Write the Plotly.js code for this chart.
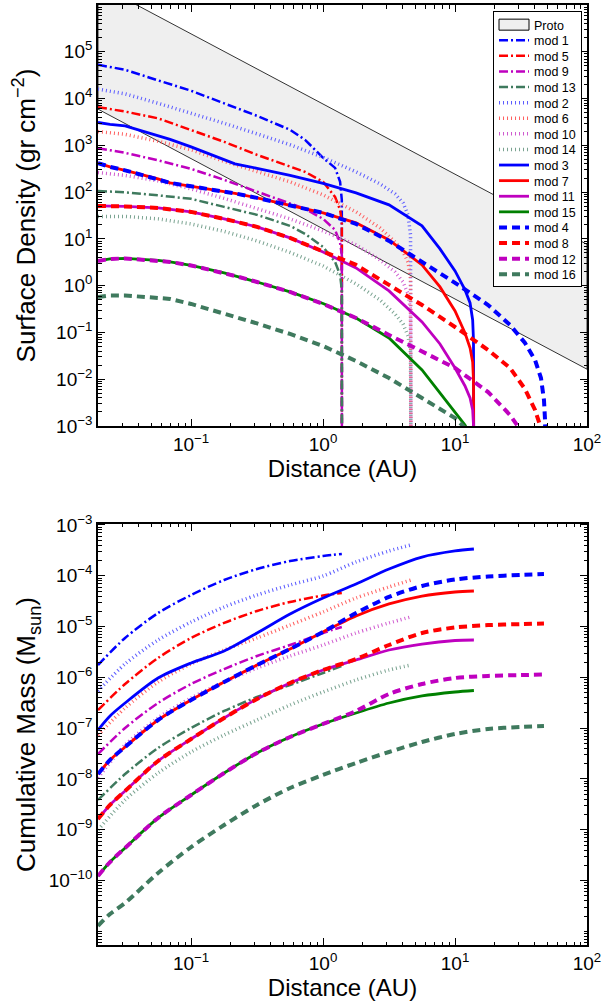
<!DOCTYPE html>
<html><head><meta charset="utf-8">
<script src="https://cdn.plot.ly/plotly-3.0.1.min.js"></script>
<style>html,body{margin:0;padding:0;background:#fff}#chart{width:603px;height:1001px}</style>
</head><body><div id="chart"></div>
<script>
// ================= DATA =================
// Proto band (surface density, gr cm^-2) bounding lines
const protoDist  = [0.0197, 100];
const protoUpper = [2.76e6, 7.64];
const protoLower = [5940, 0.0164];

// ---- Surface density (gr cm^-2) ----
const sdDistA = [0.0197, 0.0316, 0.0562, 0.1, 0.178, 0.316, 0.562, 0.731, 1.0, 1.233, 1.346, 1.387, 1.39];
const sdMod1  = [52700, 41200, 24500, 14700, 7900, 4270, 2150, 1310, 541, 330, 166, 68, 1e-5];
const sdMod5  = [6560, 5280, 3780, 2150, 1190, 627, 356, 271, 166, 79, 41.7, 23.1, 1e-5];
const sdMod9  = [871, 692, 478, 314, 183, 104, 58.9, 43.8, 26.8, 15.6, 8.2, 4.55, 1e-5];
const sdMod13 = [106, 98.9, 85.3, 71.8, 48.4, 32.7, 19.0, 12.8, 6.74, 3.22, 1.70, 0.81, 1e-5];

const sdDistB = [0.0197, 0.0316, 0.0562, 0.1, 0.178, 0.316, 0.562, 1.0, 1.778, 2.70, 3.51, 4.04, 4.40, 4.60, 4.64];
const sdMod2  = [15900, 12600, 7920, 4950, 2960, 1760, 1030, 554, 271, 150, 91.7, 58.9, 32.6, 12.2, 1e-5];
const sdMod6  = [1970, 1720, 1220, 802, 455, 278, 166, 87.3, 37.8, 17.2, 8.63, 5.27, 3.22, 1.47, 1e-5];
const sdMod10 = [262, 228, 174, 117, 73.5, 44.9, 26.8, 14.8, 7.45, 3.56, 1.97, 1.20, 0.667, 0.303, 1e-5];
const sdMod14 = [30.3, 30.3, 26.8, 20.9, 14.5, 9.06, 5.14, 2.64, 1.09, 0.495, 0.249, 0.152, 0.0841, 0.0383, 1e-5];

const sdDistC = [0.0197, 0.0243, 0.0316, 0.0562, 0.0693, 0.1, 0.178, 0.215, 0.316, 0.562, 1.0, 1.778, 3.16, 5.62, 7.69, 10, 11.9, 13.0, 13.6, 13.8, 13.9];
const sdMod3  = [3080, 2810, 2610, 1640, 1340, 929, 490, 402, 322, 228, 154, 96.4, 53.5, 19.0, 6.11, 2.07, 0.811, 0.428, 0.185, 0.0692, 1e-5];
const sdMod7  = [416, 347, 292, 192, 158, 133, 104, 94.0, 75.3, 52.1, 36.0, 22.0, 9.52, 2.78, 0.94, 0.288, 0.0975, 0.0466, 0.0234, 0.00963, 1e-5];
const sdMod11 = [50.8, 50.8, 49.5, 46.0, 42.8, 37.8, 26.8, 23.7, 18.1, 10.5, 5.27, 2.40, 0.773, 0.168, 0.0568, 0.0174, 0.00718, 0.00397, 0.00220, 0.00105, 1e-5];
const sdMod15 = [3.38, 3.73, 3.83, 3.47, 3.22, 2.71, 1.87, 1.62, 1.20, 0.735, 0.417, 0.204, 0.0762, 0.0158, 0.00508, 0.00190, 0.00105, 0.00064, null, null, null];

const sdDistD = [0.0197, 0.0243, 0.0316, 0.0562, 0.0693, 0.1, 0.178, 0.215, 0.316, 0.562, 1.0, 1.778, 3.16, 5.62, 10, 17.8, 26.1, 33.9, 40.4, 44.8, 47.2, 48.1, 48.6];
const sdMod4  = [416, 347, 292, 192, 158, 133, 104, 94.0, 75.3, 52.1, 36.0, 20.9, 9.06, 3.22, 1.15, 0.387, 0.145, 0.0596, 0.0258, 0.0106, 0.0036, 0.00134, 1e-5];
const sdMod8  = [50.8, 50.8, 49.5, 46.0, 42.8, 37.8, 26.8, 23.7, 18.1, 10.5, 5.53, 2.78, 1.04, 0.387, 0.131, 0.0423, 0.0174, 0.00618, 0.0022, 0.000906, null, null, null];
const sdMod12 = [3.38, 3.73, 3.83, 3.47, 3.22, 2.71, 1.87, 1.62, 1.20, 0.735, 0.407, 0.204, 0.0885, 0.0402, 0.0174, 0.00533, 0.00172, 0.0006, null, null, null, null, null];
const sdMod16 = [0.574, 0.618, 0.618, 0.561, 0.521, 0.407, 0.255, 0.214, 0.156, 0.0929, 0.0514, 0.0245, 0.0106, 0.00397, 0.00148, 0.0003, null, null, null, null, null, null, null];

// ---- Cumulative mass (M_sun) ----
const cmDistA = [0.0197, 0.0316, 0.0562, 0.1, 0.178, 0.316, 0.562, 1.0, 1.387];
const cmMod1  = [1.75e-6, 5.97e-6, 1.85e-5, 4.19e-5, 8.26e-5, 1.36e-4, 1.95e-4, 2.45e-4, 2.69e-4];
const cmMod5  = [2.28e-7, 7.41e-7, 2.41e-6, 5.97e-6, 1.18e-5, 2.03e-5, 3.05e-5, 4.09e-5, 4.58e-5];
const cmMod9  = [3.10e-8, 1.01e-7, 3.13e-7, 7.41e-7, 1.46e-6, 2.64e-6, 4.34e-6, 7.48e-6, 9.82e-6];
const cmMod13 = [3.86e-9, 1.25e-8, 4.07e-8, 1.01e-7, 2.18e-7, 4.11e-7, 7.08e-7, 1.22e-6, 1.68e-6];

const cmDistB = [0.0197, 0.0316, 0.0562, 0.1, 0.178, 0.316, 0.562, 1.0, 1.778, 3.16, 4.64];
const cmMod2  = [5.40e-7, 1.84e-6, 5.44e-6, 1.23e-5, 2.43e-5, 4.19e-5, 6.59e-5, 9.91e-5, 1.87e-4, 3.08e-4, 4.04e-4];
const cmMod6  = [7.35e-8, 2.50e-7, 8.11e-7, 1.84e-6, 3.46e-6, 5.97e-6, 1.07e-5, 1.94e-5, 3.66e-5, 6.03e-5, 8.26e-5];
const cmMod10 = [1.05e-8, 4.67e-8, 1.59e-7, 3.93e-7, 8.11e-7, 1.53e-6, 2.64e-6, 4.34e-6, 7.48e-6, 1.18e-5, 1.55e-5];
const cmMod14 = [9.91e-10, 3.86e-9, 1.31e-8, 3.40e-8, 7.35e-8, 1.45e-7, 2.86e-7, 5.16e-7, 8.89e-7, 1.40e-6, 1.75e-6];

const cmDistC = [0.0197, 0.0243, 0.0316, 0.0562, 0.1, 0.178, 0.316, 0.562, 1.0, 1.778, 3.16, 5.62, 10, 13.9];
const cmMod3  = [9.23e-8, 1.74e-7, 3.13e-7, 9.73e-7, 1.92e-6, 3.31e-6, 7.48e-6, 1.77e-5, 3.66e-5, 6.90e-5, 1.36e-4, 2.34e-4, 3.08e-4, 3.37e-4];
const cmMod7  = [1.25e-8, 2.37e-8, 4.27e-8, 1.45e-7, 3.59e-7, 8.11e-7, 1.75e-6, 3.62e-6, 7.83e-6, 1.62e-5, 2.79e-5, 4.00e-5, 4.80e-5, 5.02e-5];
const cmMod11 = [1.63e-9, 3.08e-9, 5.81e-9, 2.26e-8, 6.12e-8, 1.59e-7, 3.76e-7, 7.76e-7, 1.40e-6, 2.20e-6, 3.46e-6, 4.54e-6, 5.32e-6, 5.44e-6];
const cmMod15 = [1.23e-10, 2.32e-10, 4.39e-10, 1.71e-9, 4.84e-9, 1.31e-8, 3.25e-8, 6.71e-8, 1.21e-7, 1.99e-7, 3.13e-7, 4.31e-7, 5.16e-7, 5.52e-7];

const cmDistD = [0.0197, 0.0243, 0.0316, 0.0562, 0.1, 0.178, 0.316, 0.562, 1.0, 1.778, 3.16, 5.62, 10, 17.8, 31.6, 47.2];
const cmMod4  = [1.25e-8, 2.37e-8, 4.27e-8, 1.45e-7, 3.59e-7, 8.11e-7, 1.75e-6, 3.62e-6, 7.83e-6, 1.85e-5, 3.83e-5, 6.30e-5, 8.45e-5, 9.69e-5, 1.04e-4, 1.08e-4];
const cmMod8  = [1.63e-9, 3.08e-9, 5.81e-9, 2.26e-8, 6.12e-8, 1.59e-7, 3.76e-7, 7.76e-7, 1.40e-6, 2.30e-6, 4.34e-6, 7.48e-6, 9.59e-6, 1.07e-5, 1.12e-5, 1.15e-5];
const cmMod12 = [1.23e-10, 2.32e-10, 4.39e-10, 1.71e-9, 4.84e-9, 1.31e-8, 3.25e-8, 6.71e-8, 1.21e-7, 2.18e-7, 4.71e-7, 7.41e-7, 9.73e-7, 1.07e-6, 1.11e-6, 1.14e-6];
const cmMod16 = [1.28e-11, 2.20e-11, 3.62e-11, 1.41e-10, 4.58e-10, 1.24e-9, 3.08e-9, 6.65e-9, 1.20e-8, 2.07e-8, 3.40e-8, 5.35e-8, 7.69e-8, 9.64e-8, 1.06e-7, 1.10e-7];

// Tick values / labels
const xTickVals = [0.1, 1, 10, 100];
const xTickText = ['10<sup>−1</sup>', '10<sup>0</sup>', '10<sup>1</sup>', '10<sup>2</sup>'];
const sdTickVals = [1e-3, 1e-2, 1e-1, 1, 10, 100, 1e3, 1e4, 1e5];
const sdTickText = ['10<sup>−3</sup>', '10<sup>−2</sup>', '10<sup>−1</sup>', '10<sup>0</sup>', '10<sup>1</sup>', '10<sup>2</sup>', '10<sup>3</sup>', '10<sup>4</sup>', '10<sup>5</sup>'];
const cmTickVals = [1e-10, 1e-9, 1e-8, 1e-7, 1e-6, 1e-5, 1e-4, 1e-3];
const cmTickText = ['10<sup>−10</sup>', '10<sup>−9</sup>', '10<sup>−8</sup>', '10<sup>−7</sup>', '10<sup>−6</sup>', '10<sup>−5</sup>', '10<sup>−4</sup>', '10<sup>−3</sup>'];

// ================= STYLES =================
const BLUE = '#0000ff', RED = '#ff0000', MAG = '#bf00bf', DGRN = '#3f7a5e', GRN = '#008000';
const LIGHT = {'#0000ff': '#5c5cff', '#ff0000': '#ff6060', '#bf00bf': '#cf5acf', '#3f7a5e': '#7aa391'};
const FAM = {
  dashdot: {width: 2.5, dash: '9px,3px,2px,3px'},
  dot:     {width: 3.5, dash: '1px,3px'},
  solid:   {width: 2.8, dash: 'solid'},
  dash:    {width: 4,   dash: '8px,5px'}
};

const models = [
  ['mod 1',  'dashdot', BLUE, sdDistA, sdMod1,  cmDistA, cmMod1],
  ['mod 5',  'dashdot', RED,  sdDistA, sdMod5,  cmDistA, cmMod5],
  ['mod 9',  'dashdot', MAG,  sdDistA, sdMod9,  cmDistA, cmMod9],
  ['mod 13', 'dashdot', DGRN, sdDistA, sdMod13, cmDistA, cmMod13],
  ['mod 2',  'dot',     BLUE, sdDistB, sdMod2,  cmDistB, cmMod2],
  ['mod 6',  'dot',     RED,  sdDistB, sdMod6,  cmDistB, cmMod6],
  ['mod 10', 'dot',     MAG,  sdDistB, sdMod10, cmDistB, cmMod10],
  ['mod 14', 'dot',     DGRN, sdDistB, sdMod14, cmDistB, cmMod14],
  ['mod 3',  'solid',   BLUE, sdDistC, sdMod3,  cmDistC, cmMod3],
  ['mod 7',  'solid',   RED,  sdDistC, sdMod7,  cmDistC, cmMod7],
  ['mod 11', 'solid',   MAG,  sdDistC, sdMod11, cmDistC, cmMod11],
  ['mod 15', 'solid',   GRN,  sdDistC, sdMod15, cmDistC, cmMod15],
  ['mod 4',  'dash',    BLUE, sdDistD, sdMod4,  cmDistD, cmMod4],
  ['mod 8',  'dash',    RED,  sdDistD, sdMod8,  cmDistD, cmMod8],
  ['mod 12', 'dash',    MAG,  sdDistD, sdMod12, cmDistD, cmMod12],
  ['mod 16', 'dash',    DGRN, sdDistD, sdMod16, cmDistD, cmMod16]
];

const traces = [];
traces.push({
  type: 'scatter', mode: 'lines', name: 'Proto',
  x: protoDist.concat(protoDist.slice().reverse()).concat([protoDist[0]]),
  y: protoUpper.concat(protoLower.slice().reverse()).concat([protoUpper[0]]),
  fill: 'toself', fillcolor: '#efefef',
  line: {color: '#000', width: 0.8},
  xaxis: 'x', yaxis: 'y', hoverinfo: 'skip'
});
models.forEach(m => {
  const f = FAM[m[1]];
  const col = m[1] === 'dot' ? (LIGHT[m[2]] || m[2]) : m[2];
  traces.push({type: 'scatter', mode: 'lines', name: m[0], x: m[3], y: m[4],
    line: {color: col, width: f.width, dash: f.dash}, connectgaps: false,
    xaxis: 'x', yaxis: 'y', legendgroup: m[0]});
});
models.forEach(m => {
  const f = FAM[m[1]];
  const col = m[1] === 'dot' ? (LIGHT[m[2]] || m[2]) : m[2];
  traces.push({type: 'scatter', mode: 'lines', name: m[0], x: m[5], y: m[6],
    line: {color: col, width: f.width, dash: f.dash, shape: 'spline', smoothing: 0.8},
    xaxis: 'x2', yaxis: 'y2', showlegend: false, legendgroup: m[0]});
});

const FONT = 'Liberation Sans, Arial, Helvetica, sans-serif';
function axis(extra) {
  return Object.assign({
    type: 'log', showline: true, linecolor: '#000', linewidth: 1.8, mirror: 'allticks',
    ticks: 'inside', ticklen: 7, tickwidth: 1, tickcolor: '#000',
    showgrid: false, zeroline: false, tickmode: 'array',
    tickfont: {family: FONT, size: 19, color: '#000'},
    minor: {ticks: 'inside', ticklen: 3.5, tickwidth: 1, tickcolor: '#000', dtick: 'D1', showgrid: false}
  }, extra);
}

const layout = {
  width: 603, height: 1001,
  margin: {l: 98, r: 16, t: 5, b: 56},
  paper_bgcolor: '#fff', plot_bgcolor: '#fff',
  font: {family: FONT, color: '#000'},
  showlegend: true,
  legend: {x: 0.9898, xanchor: 'right', y: 0.9936, yanchor: 'top',
    bgcolor: '#fff', bordercolor: '#000', borderwidth: 1,
    font: {family: FONT, size: 12.5, color: '#000'}, itemwidth: 30, tracegroupgap: 0},
  xaxis: axis({domain: [0, 1], anchor: 'y', range: [-1.7055, 2], tickvals: xTickVals, ticktext: xTickText,
    title: {text: 'Distance (AU)', standoff: 4, font: {family: FONT, size: 24}}}),
  yaxis: axis({domain: [0.5521, 1], anchor: 'x', range: [-3, 6], tickvals: sdTickVals, ticktext: sdTickText,
    title: {text: 'Surface Density (gr cm<sup>−2</sup>)', font: {family: FONT, size: 26}}}),
  xaxis2: axis({domain: [0, 1], anchor: 'y2', range: [-1.7055, 2], tickvals: xTickVals, ticktext: xTickText,
    title: {text: 'Distance (AU)', standoff: 4, font: {family: FONT, size: 24}}}),
  yaxis2: axis({domain: [0, 0.4479], anchor: 'x2', range: [-11.268, -2.98], tickvals: cmTickVals, ticktext: cmTickText,
    title: {text: 'Cumulative Mass (M<sub>sun</sub>)', font: {family: FONT, size: 26}}})
};

const gd = document.getElementById('chart');
Plotly.newPlot(gd, traces, layout, {staticPlot: true, displayModeBar: false}).then(function () {
  try {
    const items = gd.querySelectorAll('.legend .traces');
    if (items.length < 2) return;
    const parse = el => {
      const m = /translate\(\s*([-\d.e]+)[\s,]+([-\d.e]+)\s*\)/.exec(el.getAttribute('transform') || '');
      return m ? [parseFloat(m[1]), parseFloat(m[2])] : null;
    };
    const p0 = parse(items[0]), p1 = parse(items[1]);
    if (!p0 || !p1) return;
    const orig = p1[1] - p0[1];
    const step = 15.6;
    const shift = -2;
    items.forEach((el, i) => {
      el.setAttribute('transform', 'translate(' + p0[0] + ',' + (p0[1] + shift + i * step) + ')');
    });
    const bg = gd.querySelector('.legend rect.bg');
    if (bg) {
      const h = parseFloat(bg.getAttribute('height'));
      bg.setAttribute('height', h - items.length * (orig - step) + shift);
    }
    // Proto swatch: grey box with black outline, like the reference legend
    const first = items[0];
    const fills = first.querySelectorAll('.legendfill path');
    fills.forEach(p => {
      p.setAttribute('d', 'M5,-5.5h30v11h-30z');
      p.style.fill = '#efefef';
      p.style.stroke = '#000';
      p.style.strokeWidth = '1px';
      p.style.opacity = 1;
    });
    first.querySelectorAll('.legendlines path').forEach(p => { p.style.display = 'none'; });
  } catch (e) {}
});
</script>
</body></html>
